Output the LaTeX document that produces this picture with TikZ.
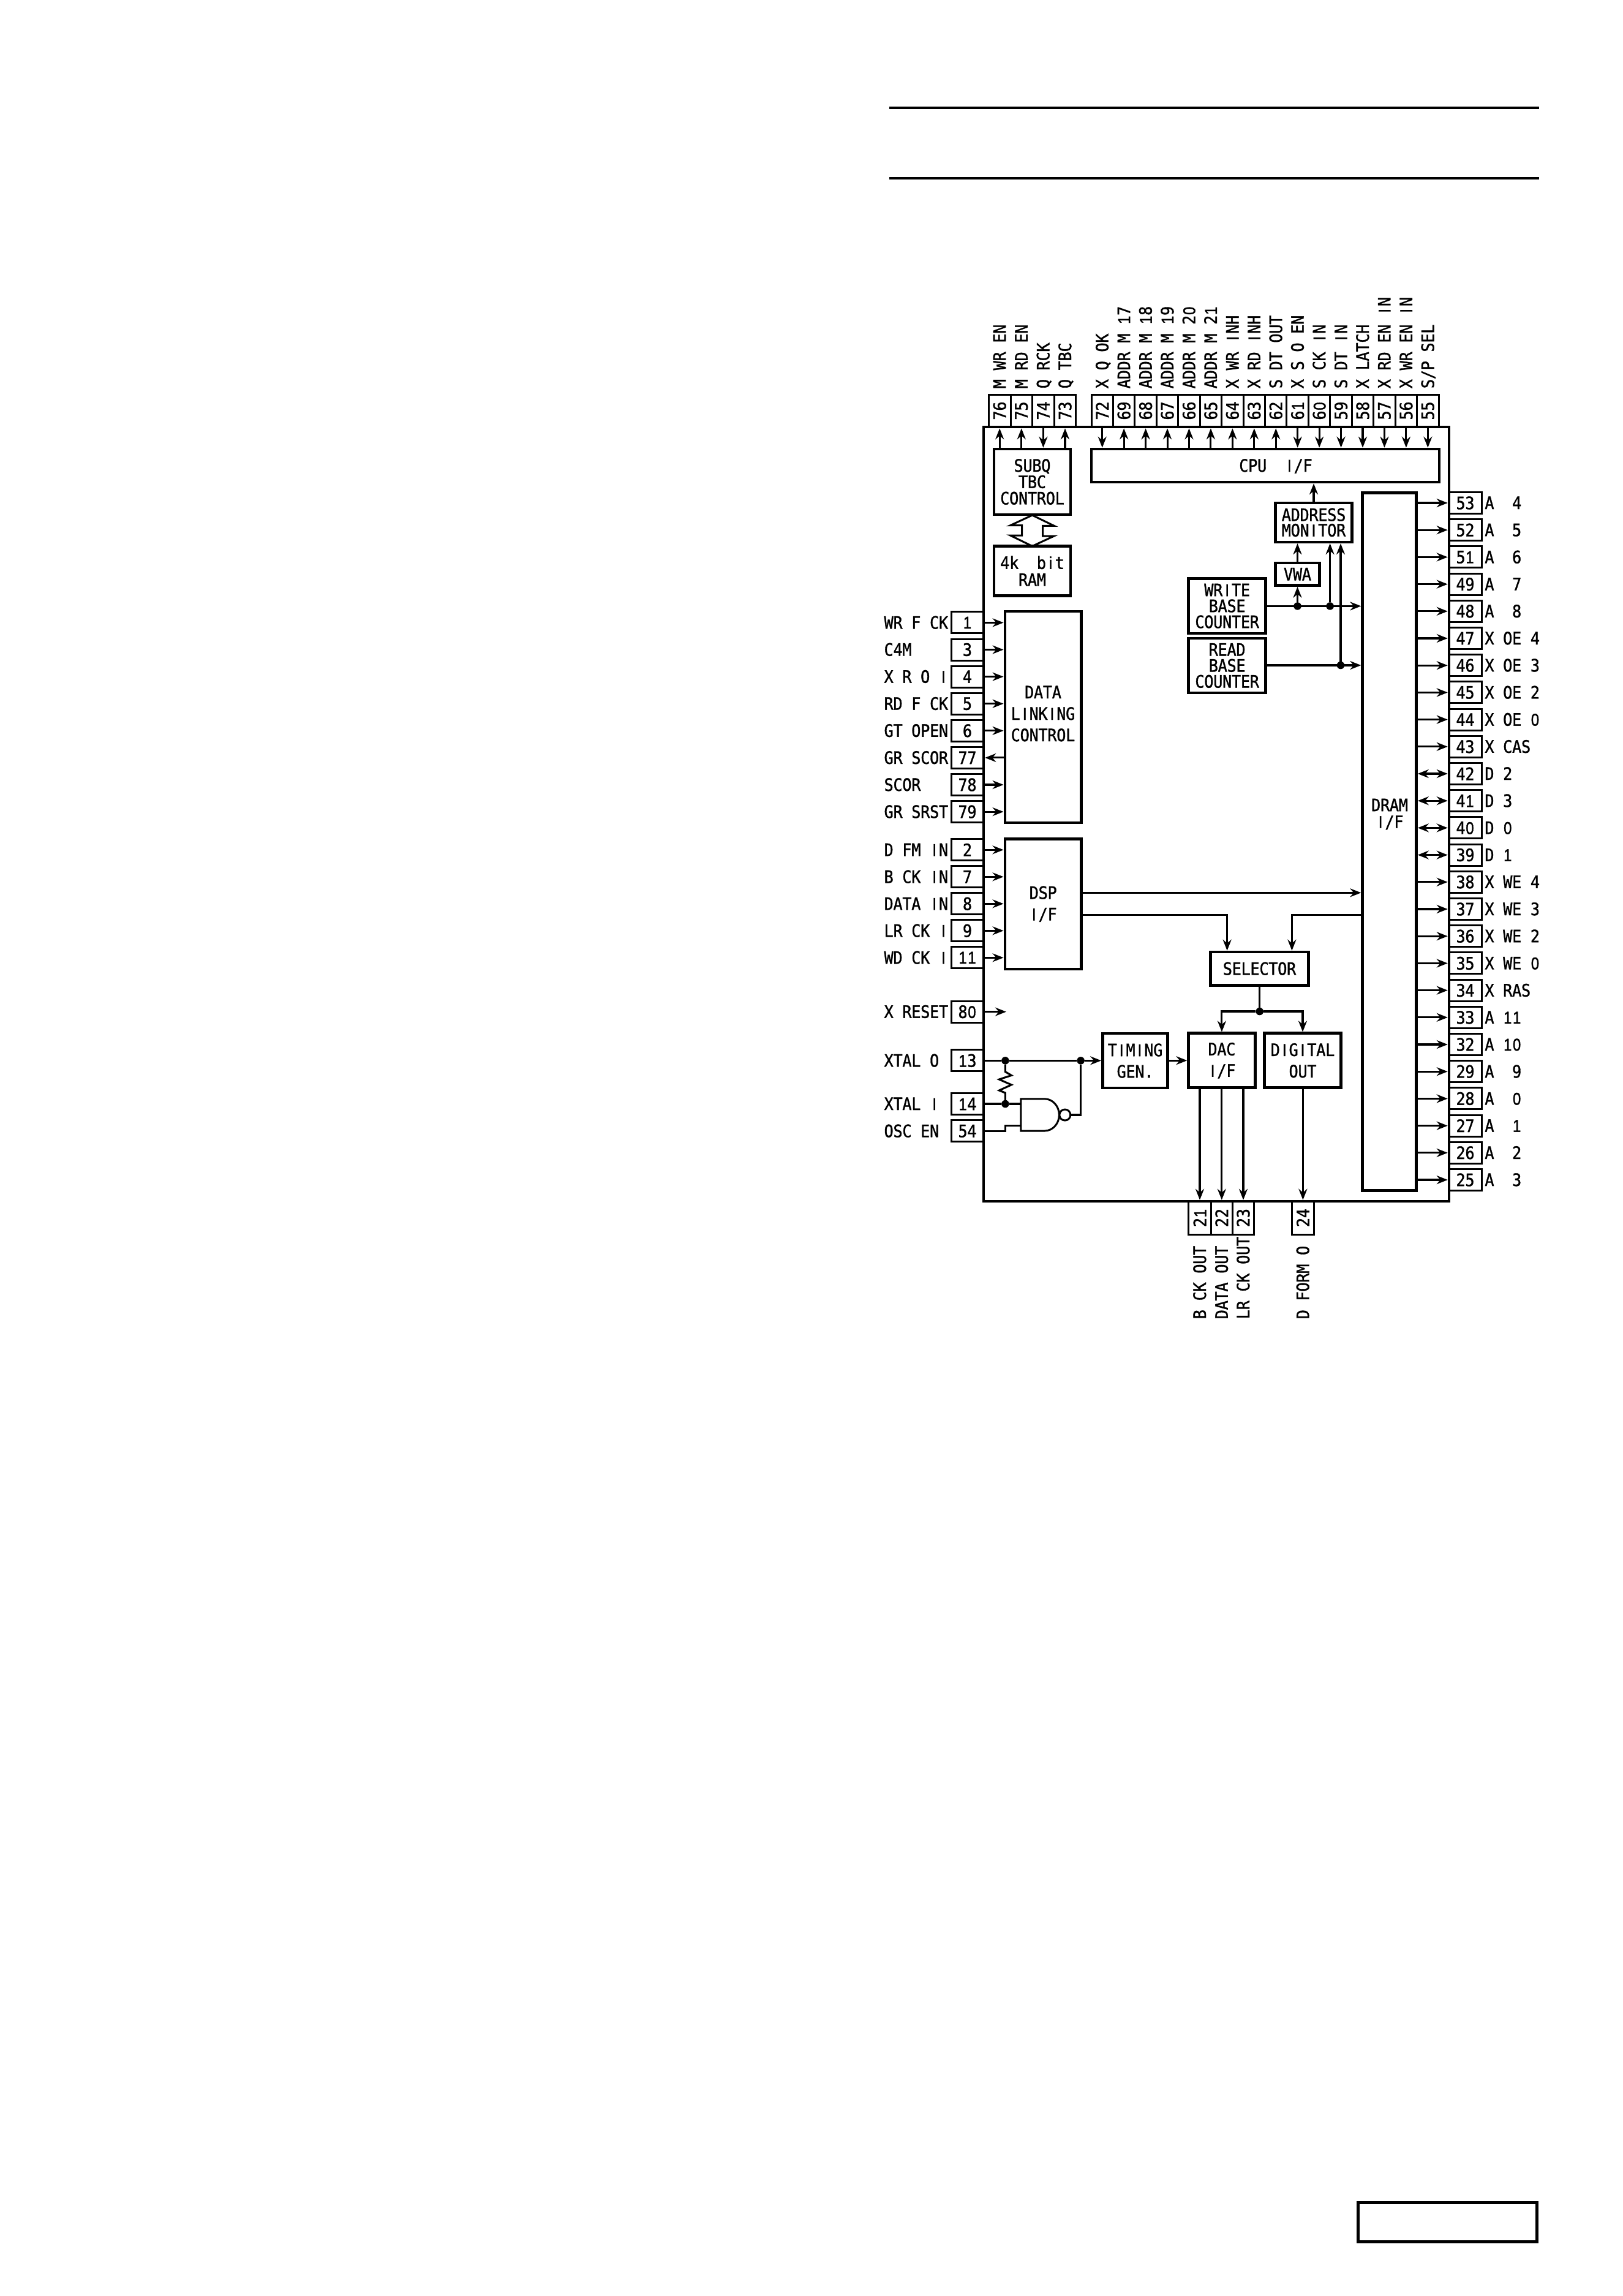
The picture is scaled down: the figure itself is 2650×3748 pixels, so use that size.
\documentclass[tikz,border=0pt]{standalone}
\usepackage{fontspec}
\usepackage{graphicx}
\usetikzlibrary{arrows.meta,calc}
\newfontfamily\dmono[FakeStretch=0.9,FakeBold=1.2]{DejaVu Sans Mono}
\newfontfamily\dplain[FakeStretch=0.85,FakeBold=1.2]{Liberation Sans}
% Fixed-pitch lettering: one cell per character, plain strokes for I, i, 0 and 1
\newdimen\cellpitch \cellpitch=2.98pt
\def\glyphcell#1{\hbox to\cellpitch{\hss
  \ifx#1I{\dplain I}\else\ifx#1i{\dplain i}\else\ifx#10{\dplain 0}\else\ifx#11{\dplain 1}\else#1\fi\fi\fi\fi\hss}}
\def\stloop#1{\ifx#1\relax\else\glyphcell{#1}\expandafter\stloop\fi}
\def\st#1{\leavevmode\expandafter\stloop#1\relax}
\tikzset{
  every node/.style={inner sep=0pt,outer sep=0pt,font=\dmono\fontsize{5.6}{6}\selectfont},
  leading/.style={font=\dmono\fontsize{5.6}{#1}\selectfont},
  blkbox/.style={draw=black,line width=0.9pt,align=center},
  pinbox/.style={draw=black,line width=0.6pt},
  lbl/.style={text height=4pt,text depth=0pt},
  sig/.style={draw=black,line width=0.62pt,line cap=butt,
    -{Stealth[length=3.6pt,width=2.8pt,inset=1.2pt]},shorten >=0.45pt},
  sigb/.style={draw=black,line width=0.62pt,
    {Stealth[length=3.6pt,width=2.8pt,inset=1.2pt]}-{Stealth[length=3.6pt,width=2.8pt,inset=1.2pt]},
    shorten >=0.45pt,shorten <=0.45pt},
  wire/.style={draw=black,line width=0.62pt},
  jn/.style={circle,fill=black,minimum size=2.5pt},
}
% Rectangle given by its corners: [options]{name}{x1}{y1}{x2}{y2}{text}
\newcommand\blk[7][]{%
  \pgfmathsetmacro\bcx{(#3+#5)/2}\pgfmathsetmacro\bcy{(#4+#6)/2}%
  \pgfmathsetmacro\bw{(#5-#3)*0.2}\pgfmathsetmacro\bh{(#6-#4)*0.2}%
  \node[blkbox,minimum width=\bw pt,minimum height=\bh pt,#1] (#2) at (\bcx,\bcy) {#7};}
\begin{document}
\begin{tikzpicture}[x=0.2pt,y=-0.2pt]
\useasboundingbox (0,0) rectangle (2650,3748);
\fill[white] (0,0) rectangle (2650,3748);

% page furniture
\coordinate (ruleAa) at (1452,176); \coordinate (ruleAb) at (2513,176);
\coordinate (ruleBa) at (1452,291); \coordinate (ruleBb) at (2513,291);
\draw[line width=0.9pt] (ruleAa) -- (ruleAb);
\draw[line width=0.9pt] (ruleBa) -- (ruleBb);
\blk[line width=1pt]{tag}{2217}{3595}{2509}{3659}{}

% chip outline
\blk{chip}{1606}{697}{2366}{1961}{}

% internal blocks
\blk[leading=5.35]{subq}{1623}{733}{1748}{840}{\st{SUBQ}\\\st{TBC}\\\st{CONTROL}}
\blk[leading=5.55]{ram}{1623}{891.5}{1748}{972.5}{\st{4k~~bit}\\\st{RAM}}
\blk{cpu}{1782}{733}{2350}{787}{}
\node[lbl] (cputext) at (2083,760) {\st{CPU~~I/F}};
\blk[leading=5.06]{admon}{2082.4}{820.8}{2207.6}{884.9}{\st{ADDRESS}\\\st{MONITOR}}
\blk{vwa}{2082.4}{918.8}{2154.6}{955.5}{\st{VWA}}
\blk[leading=5.2]{wbase}{1940.6}{944.5}{2066.7}{1033.9}{\st{WRITE}\\\st{BASE}\\\st{COUNTER}}
\blk[leading=5.2]{rbase}{1940.6}{1042}{2066.7}{1131}{\st{READ}\\\st{BASE}\\\st{COUNTER}}
\blk{dram}{2224.6}{804.5}{2312.5}{1943.7}{}
\node[leading=5.5,align=center] (dramtext) at (2269,1329) {\st{DRAM}\\\st{I/F}};
\blk{link}{1640.8}{997.8}{1765.6}{1343}{}
\node[leading=7,align=center] (linktext) at (1703,1165) {\st{DATA}\\\st{LINKING}\\\st{CONTROL}};
\blk[leading=7]{dsp}{1640.8}{1369.5}{1765.6}{1582}{\st{DSP}\\\st{I/F}}
\blk{sel}{1976.7}{1554}{2136.3}{1608.4}{\st{SELECTOR}}
\blk[leading=7]{timing}{1800.4}{1687}{1906.6}{1776}{\st{TIMING}\\\st{GEN.}}
\blk[leading=7]{dac}{1940.6}{1686.7}{2049.3}{1775.6}{\st{DAC}\\\st{I/F}}
\blk[leading=7]{digout}{2064.6}{1686.7}{2189.4}{1775.6}{\st{DIGITAL}\\\st{OUT}}

% top pins, left group
\foreach \n/\lab [count=\i from 0] in {76/{M~WR~EN},75/{M~RD~EN},74/{Q~RCK},73/{Q~TBC}}{
  \pgfmathsetmacro\xx{1614.4+35.6*(\i+0.5)}
  \node[pinbox,minimum width=7.12pt,minimum height=10.6pt] (p\n) at (\xx,670.5) {\rotatebox{90}{\st{\n}}};
  \node[lbl,rotate=90,anchor=west] (t\n) at (\xx,634) {\st{\lab}};
}
% top pins, CPU group
\foreach \n/\lab [count=\i from 0] in {72/{X~Q~OK},69/{ADDR~M~17},68/{ADDR~M~18},67/{ADDR~M~19},66/{ADDR~M~20},65/{ADDR~M~21},64/{X~WR~INH},63/{X~RD~INH},62/{S~DT~OUT},61/{X~S~O~EN},60/{S~CK~IN},59/{S~DT~IN},58/{X~LATCH},57/{X~RD~EN~IN},56/{X~WR~EN~IN},55/{S/P~SEL}}{
  \pgfmathsetmacro\xx{1782+35.44*(\i+0.5)}
  \node[pinbox,minimum width=7.09pt,minimum height=10.6pt] (p\n) at (\xx,670.5) {\rotatebox{90}{\st{\n}}};
  \node[lbl,rotate=90,anchor=west] (t\n) at (\xx,634) {\st{\lab}};
}
% left pins
\foreach \n/\lab [count=\i from 0] in {1/{WR~F~CK},3/{C4M},4/{X~R~O~I},5/{RD~F~CK},6/{GT~OPEN},77/{GR~SCOR},78/{SCOR},79/{GR~SRST}}{
  \pgfmathsetmacro\yy{1016.4+44.1*\i}
  \node[pinbox,minimum width=10.6pt,minimum height=7pt] (p\n) at (1579.5,\yy) {\st{\n}};
  \node[lbl,anchor=west] (t\n) at (1443.7,\yy) {\st{\lab}};
}
\foreach \n/\lab [count=\i from 0] in {2/{D~FM~IN},7/{B~CK~IN},8/{DATA~IN},9/{LR~CK~I},11/{WD~CK~I}}{
  \pgfmathsetmacro\yy{1387.3+44*\i}
  \node[pinbox,minimum width=10.6pt,minimum height=7pt] (p\n) at (1579.5,\yy) {\st{\n}};
  \node[lbl,anchor=west] (t\n) at (1443.7,\yy) {\st{\lab}};
}
\foreach \n/\lab/\yy in {80/{X~RESET}/1651.6,13/{XTAL~O}/1731.3,14/{XTAL~I}/1802,54/{OSC~EN}/1846.3}{
  \node[pinbox,minimum width=10.6pt,minimum height=7pt] (p\n) at (1579.5,\yy) {\st{\n}};
  \node[lbl,anchor=west] (t\n) at (1443.7,\yy) {\st{\lab}};
}
% right pins
\foreach \n/\lab [count=\i from 0] in {53/{A~~4},52/{A~~5},51/{A~~6},49/{A~~7},48/{A~~8},47/{X~OE~4},46/{X~OE~3},45/{X~OE~2},44/{X~OE~0},43/{X~CAS},42/{D~2},41/{D~3},40/{D~0},39/{D~1},38/{X~WE~4},37/{X~WE~3},36/{X~WE~2},35/{X~WE~0},34/{X~RAS},33/{A~11},32/{A~10},29/{A~~9},28/{A~~0},27/{A~~1},26/{A~~2},25/{A~~3}}{
  \pgfmathsetmacro\yy{821+44.2*\i}
  \node[pinbox,minimum width=10.6pt,minimum height=7pt] (p\n) at (2392.5,\yy) {\st{\n}};
  \node[lbl,anchor=west] (t\n) at (2424.5,\yy) {\st{\lab}};
}
% bottom pins
\foreach \n/\lab/\xx/\ww in {21/{B~CK~OUT}/1959/7.3,22/{DATA~OUT}/1994.8/7,23/{LR~CK~OUT}/2030/7.1,24/{D~FORM~O}/2127.4/7.3}{
  \node[pinbox,minimum width=\ww pt,minimum height=10.8pt] (p\n) at (\xx,1988) {\rotatebox{90}{\st{\n}}};
  \node[lbl,rotate=90,anchor=west] (t\n) at (\xx,2153) {\st{\lab}};
}

% top pin connectors
\foreach \n in {76,75,73}{\draw[sig] (subq.north -| p\n) -- (p\n.south);}
\draw[sig] (p74.south) -- (subq.north -| p74);
\foreach \n in {69,68,67,66,65,64,63,62}{\draw[sig] (cpu.north -| p\n) -- (p\n.south);}
\foreach \n in {72,61,60,59,58,57,56,55}{\draw[sig] (p\n.south) -- (cpu.north -| p\n);}

% left pin connectors
\foreach \n in {1,3,4,5,6,78,79}{\draw[sig] (p\n.east) -- (link.west |- p\n);}
\draw[sig] (link.west |- p77) -- (p77.east);
\foreach \n in {2,7,8,9,11}{\draw[sig] (p\n.east) -- (dsp.west |- p\n);}
\coordinate (rstend) at (1643,1651.6);
\draw[sig,shorten >=0pt] (p80.east) -- (rstend);

% right pin connectors
\foreach \n in {53,52,51,49,48,47,46,45,44,43,38,37,36,35,34,33,32,29,28,27,26,25}{\draw[sig] (dram.east |- p\n) -- (p\n.west);}
\foreach \n in {42,41,40,39}{\draw[sigb] (dram.east |- p\n) -- (p\n.west);}

% hollow two-way arrow between SUBQ control and RAM
\draw[line width=0.6pt,line join=miter] (subq.south) ++(0,1)
  -- ++(-35.6,16.5) -- ++(18.6,0) -- ++(0,16.7) -- ++(-18.6,0) -- (ram.north)
  -- ++(35.6,-16.5) -- ++(-18.6,0) -- ++(0,-16.7) -- ++(18.6,0) -- cycle;

% address monitor section
\draw[sig] (admon.north) -- (cpu.south -| admon.north);
\coordinate (jva) at (2118.5,989.4);
\coordinate (jmb) at (2171.6,989.4);
\coordinate (jrd) at (2189,1086);
\draw[sig] (wbase.east |- jva) -- (dram.west |- jva);
\draw[sig] (rbase.east |- jrd) -- (dram.west |- jrd);
\node[jn] (dva) at (jva) {};
\node[jn] (dmb) at (jmb) {};
\node[jn] (drd) at (jrd) {};
\draw[sig] (dva) -- (vwa.south -| dva);
\draw[sig] (vwa.north -| dva) -- (admon.south -| dva);
\draw[sig] (dmb) -- (admon.south -| dmb);
\draw[sig] (drd) -- (admon.south -| drd);

% DSP and DRAM towards the selector
\coordinate (dspa) at (1765.6,1457.3);
\coordinate (dspb) at (1765.6,1493.7);
\coordinate (sela) at (2003.6,1554);
\coordinate (selb) at (2109.4,1554);
\draw[sig] (dspa) -- (dram.west |- dspa);
\draw[sig] (dspb) -| (sela);
\draw[sig] (dram.west |- dspb) -| (selb);

% selector outputs
\node[jn] (dsel) at (2056.7,1651) {};
\draw[wire] (sel.south -| dsel) -- (dsel);
\draw[sig] (dsel) -| (1994.9,1686.7);
\draw[sig] (dsel) -| (digout.north);

% digital audio outputs
\foreach \n in {21,22,23}{\draw[sig] (dac.south -| p\n) -- (p\n.north);}
\draw[sig] (digout.south -| p24) -- (p24.north);

% oscillator
\node[jn] (dxo) at (1641.4,1731.3) {};
\node[jn] (dxt) at (1764.6,1731.3) {};
\node[jn] (dxi) at (1641.4,1802) {};
\draw[wire] (p13.east) -- (dxo);
\draw[wire] (dxo) -- (dxt);
\draw[sig] (dxt) -- (timing.west |- dxt);
\draw[sig] (timing.east |- dac) -- (dac.west);
\draw[wire,line join=miter] (dxo) -- ++(0,18.2) -- ++(10,5.9) -- ++(-20,6.6) -- ++(20,8.8) -- ++(-20,9.2) -- ++(10,4) -- (dxi);
\draw[wire] (p14.east) -- (dxi);
% NAND gate with inverting output
\coordinate (nandA) at (1666.9,1802);
\coordinate (nandB) at (1666.9,1837.6);
\draw[line width=0.6pt] (1666.9,1793.8) -- (1705.7,1793.8)
  .. controls (1719,1793.8) and (1729.4,1806) .. (1729.4,1820)
  .. controls (1729.4,1834) and (1719,1846) .. (1705.7,1846)
  -- (1666.9,1846) -- cycle;
\node[draw=black,line width=0.6pt,circle,minimum size=3.6pt] (bubble) at (1738.8,1820) {};
\draw[wire] (dxi) -- (nandA);
\draw[wire] (p54.east) -- (1641.4,1846.3) -- (1641.4,1837.6) -- (nandB);
\draw[wire] (bubble.east) -| (dxt);
\end{tikzpicture}
\end{document}
